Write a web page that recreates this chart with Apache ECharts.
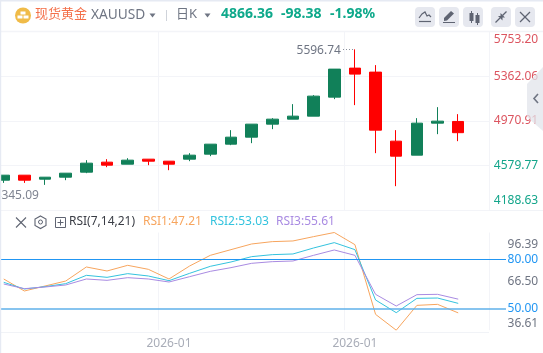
<!DOCTYPE html>
<html>
<head>
<meta charset="utf-8">
<title>现货黄金 XAUUSD</title>
<style>
  html, body { margin: 0; padding: 0; background: #fff; }
  #chart { width: 543px; height: 353px; }
</style>
<script src="https://cdn.jsdelivr.net/npm/echarts@6/dist/echarts.min.js"></script>
</head>
<body>
<div id="chart"></div>
<script>
// last one is the empty slot at the right of the last candle
const categories = [
  "2026-01-06", "2026-01-07", "2026-01-08", "2026-01-09", "2026-01-12", "2026-01-13",
  "2026-01-14", "2026-01-15", "2026-01-16", "2026-01-19", "2026-01-20", "2026-01-21",
  "2026-01-22", "2026-01-23", "2026-01-26", "2026-01-27", "2026-01-28", "2026-01-29",
  "2026-01-30", "2026-02-02", "2026-02-03", "2026-02-04", "2026-02-05", "2026-02-06"
];
const dateLabels = ["2026-01-16", "2026-01-29"];

// open, close, low, high
const candles = [
  [4450.0, 4493.9, 4426.3, 4493.9],
  [4493.9, 4450.0, 4426.3, 4493.9],
  [4458.8, 4476.3, 4408.8, 4476.3],
  [4476.3, 4511.4, 4450.0, 4511.4],
  [4520.2, 4599.1, 4511.4, 4625.4],
  [4607.9, 4581.5, 4564.0, 4634.2],
  [4590.3, 4625.4, 4590.3, 4642.9],
  [4634.2, 4616.6, 4581.5, 4634.2],
  [4616.6, 4590.3, 4537.7, 4616.6],
  [4634.2, 4669.3, 4616.6, 4686.8],
  [4678.0, 4765.7, 4660.5, 4765.7],
  [4765.7, 4827.1, 4756.9, 4888.5],
  [4827.1, 4941.1, 4774.5, 4941.1],
  [4941.1, 4985.0, 4897.3, 4993.7],
  [4985.0, 5011.3, 4985.0, 5116.5],
  [5011.3, 5186.7, 5011.3, 5195.5],
  [5177.9, 5423.5, 5160.4, 5423.5],
  [5432.2, 5379.6, 5107.8, 5596.74],
  [5397.2, 4888.5, 4686.8, 5458.6],
  [4792.0, 4660.5, 4397.4, 4888.5],
  [4669.3, 4949.9, 4669.3, 4993.7],
  [4949.9, 4967.4, 4853.4, 5090.2],
  [4964.7, 4866.36, 4792.0, 5028.8],
  "-"
];

const rsi1 = [67.94, 60.6, 63.65, 66.7, 75.29, 72.84, 76.31, 73.86, 67.94, 75.9, 82.43, 85.9,
  89.37, 90.8, 91.21, 93.86, 96.39, 88.96, 46.3, 36.61, 51.8, 52.43, 47.21, "-"];
const rsi2 = [65.9, 61.82, 63.25, 65.08, 70.18, 68.96, 71.21, 69.78, 66.92, 71.41, 75.7, 78.35,
  81.61, 82.84, 83.25, 86.92, 90.19, 85.9, 55.08, 47.33, 56.1, 56.3, 53.03, "-"];
const rsi3 = [64.88, 62.02, 63.04, 64.27, 67.94, 67.12, 68.76, 67.94, 66.1, 69.37, 72.63, 74.88,
  77.53, 78.55, 78.96, 82.43, 85.7, 82.43, 58.55, 51.41, 58.35, 58.55, 55.61, "-"];

const priceTicks = [4188.63, 4579.77, 4970.91, 5362.06, 5753.20];
const rsiTicks = [36.61, 50, 66.5, 80, 96.39];
const rsiLevels = [80, 50];
const highLabel = 5596.74;
const lowLabel = 4345.09;

const FONT = "'Noto Sans', 'Noto Sans CJK SC', sans-serif";
const GRID_LINE = "#f3f4f8";
const GRAY = "#6f7583";
const GREEN = "#0fa98b";
const PRICE_UP = "#dc5560";
const PRICE_DOWN = "#13a58a";

const isDateLabel = (i, v) => dateLabels.includes(v);

// toolbar + small icons, plain zrender shapes
const txt = (x, y, text, fill, size, weight) => ({
  type: "text", x, y, silent: true,
  style: { text, fill, font: `${weight || "normal"} ${size || 13}px ${FONT}`, verticalAlign: "middle" }
});
const seg = (x1, y1, x2, y2, stroke, w) => ({
  type: "line", silent: true,
  shape: { x1, y1, x2, y2 },
  style: { stroke, lineWidth: w || 1 }
});
const box = (x, y, width, height, fill, r) => ({
  type: "rect", silent: true,
  shape: { x, y, width, height, r: r || 0 },
  style: { fill }
});
const tri = (x, y) => ({
  type: "polygon", silent: true,
  shape: { points: [[x - 3, y - 2], [x + 3, y - 2], [x, y + 2]] },
  style: { fill: GRAY }
});
const poly = (points, fill) => ({ type: "polygon", silent: true, shape: { points }, style: { fill } });
const polyline = (points, stroke, w) => ({
  type: "polyline", silent: true, shape: { points },
  style: { stroke, lineWidth: w || 1, fill: null }
});

const ICON = "#5f6472";
const graphics = [
  // window frame
  Object.assign(box(0, 0, 543, 1.5, "#e6eaf3"), { z: 300 }),
  Object.assign(box(0, 0, 1.2, 353, "#e6eaf3"), { z: 300 }),
  seg(1, 31.5, 543, 31.5, "#f1f3f7", 1.5),
  seg(489.5, 31, 489.5, 210, "#f1f3f7"),
  seg(1, 210.5, 543, 210.5, "#f1f3f7"),
  seg(1, 332.5, 489, 332.5, "#f1f3f7"),

  // title bar
  { type: "circle", silent: true, shape: { cx: 23, cy: 15.5, r: 8 }, style: { fill: "#f0bb48" } },
  box(20.5, 11.5, 5, 3, "#fff"),
  box(17.5, 15.5, 5, 3, "#fff"),
  box(23.5, 15.5, 5, 3, "#fff"),
  txt(35, 14.5, "现货黄金", "#f4704a", 13),
  txt(91, 15.5, "XAUUSD", GRAY, 13.7),
  tri(152.5, 15.5),
  seg(166.5, 10, 166.5, 21, "#cfd3da"),
  txt(176, 14.5, "日K", GRAY, 13),
  tri(207.5, 15.5),
  txt(221, 14.5, "4866.36", GREEN, 14, "bold"),
  txt(281, 14.5, "-98.38", GREEN, 14, "bold"),
  txt(330, 14.5, "-1.98%", GREEN, 14, "bold"),

  // toolbar buttons
  box(415, 7, 20, 20, "#e6e8ef", 4),
  box(439, 7, 20, 20, "#e6e8ef", 4),
  box(463, 7, 20, 20, "#e6e8ef", 4),
  box(491, 7, 20, 20, "#e6e8ef", 4),
  box(515, 7, 20, 20, "#e6e8ef", 4),
  polyline([[419, 18], [422, 14], [425, 12], [427, 16], [429, 15], [431, 17]], ICON, 1.2),
  seg(419, 21.5, 431, 21.5, ICON, 1.2),
  poly([[444, 18], [451, 11], [454, 13.5], [447, 20.5], [444, 21]], ICON),
  seg(443, 22.5, 455, 22.5, ICON, 1),
  box(469.5, 13, 4, 8, ICON),
  seg(471.5, 11, 471.5, 23, ICON),
  box(475.5, 15, 4, 8, ICON),
  seg(477.5, 13, 477.5, 25, ICON),
  seg(495.5, 22.5, 500, 18, ICON, 1.2),
  poly([[498, 16], [502.5, 16], [502.5, 20.5]], ICON),
  seg(506.5, 11.5, 502.5, 15.5, ICON, 1.2),
  poly([[500.5, 13], [500.5, 17.5], [505, 17.5]], ICON),
  seg(520, 12, 530, 22, ICON, 1.2),
  seg(530, 12, 520, 22, ICON, 1.2),

  // side handle, see-through so the tick labels stay visible
  {
    type: "polygon", silent: true, z: 200,
    shape: { points: [[527, 84], [543, 67], [543, 131], [527, 117]] },
    style: { fill: "rgba(226,228,235,0.75)" }
  },
  Object.assign(polyline([[538, 94], [534, 98.5], [538, 103]], "#6f7583", 1.6), { z: 201 }),

  // indicator header
  seg(16, 217.5, 26, 227.5, ICON, 1.1),
  seg(26, 217.5, 16, 227.5, ICON, 1.1),
  {
    type: "polygon", silent: true,
    shape: { points: [[40.5, 216], [46, 219], [46, 225.5], [40.5, 228.5], [35, 225.5], [35, 219]] },
    style: { stroke: ICON, fill: null, lineWidth: 1.1 }
  },
  { type: "circle", silent: true, shape: { cx: 40.5, cy: 222, r: 2 }, style: { stroke: ICON, fill: null } },
  { type: "rect", silent: true, shape: { x: 55.5, y: 217.5, width: 10, height: 10 }, style: { stroke: ICON, fill: null } },
  seg(60.5, 219.5, 60.5, 225.5, ICON),
  seg(57.5, 222.5, 63.5, 222.5, ICON),
  txt(69, 222, "RSI(7,14,21)", "#3a3d45", 12),
  txt(143, 222, "RSI1:47.21", "#f7a55e", 12),
  txt(210, 222, "RSI2:53.03", "#34c3de", 12),
  txt(276, 222, "RSI3:55.61", "#a98be2", 12)
];

const chart = echarts.init(document.getElementById("chart"), null, { renderer: "canvas" });

const rsiSeries = (name, data, color) => ({
  name, type: "line", xAxisIndex: 1, yAxisIndex: 1,
  data, showSymbol: false, symbol: "none", silent: true,
  lineStyle: { color, width: 1 }
});

const priceColor = v => (v >= 4970 ? PRICE_UP : PRICE_DOWN);
const rsiColor = v => (rsiLevels.includes(+v) ? "#2196f3" : "#6f7583");

const option = {
  animation: false,
  backgroundColor: "#fff",
  textStyle: { fontFamily: FONT },
  graphic: graphics,
  // outerBounds off, the first candle has to hang over the left edge
  grid: [
    { left: -6.6, width: 495.8, top: 31.5, height: 178.5, outerBoundsMode: "none" },
    { left: -6.6, width: 495.8, top: 232.5, height: 97.7, outerBoundsMode: "none" }
  ],
  xAxis: [
    {
      type: "category", data: categories, gridIndex: 0,
      axisLine: { show: false }, axisTick: { show: false, alignWithLabel: true }, axisLabel: { show: false },
      splitLine: { show: true, interval: isDateLabel, lineStyle: { color: GRID_LINE } }
    },
    {
      type: "category", data: categories, gridIndex: 1,
      axisLine: { show: false }, axisTick: { show: false, alignWithLabel: true },
      axisLabel: {
        interval: isDateLabel, margin: 7, color: "#a9adb8", fontSize: 12,
        formatter: v => v.slice(0, 7)
      },
      splitLine: { show: true, interval: isDateLabel, lineStyle: { color: GRID_LINE } }
    }
  ],
  yAxis: [
    {
      type: "value", gridIndex: 0, position: "right",
      min: priceTicks[0], max: priceTicks[priceTicks.length - 1],
      axisLine: { show: false }, axisTick: { show: false, customValues: priceTicks },
      splitLine: { show: true, lineStyle: { color: GRID_LINE } },
      axisLabel: {
        customValues: priceTicks,
        align: "right", margin: 49, fontSize: 12,
        showMinLabel: true, showMaxLabel: true,
        color: priceColor,
        // first and last label are pushed inside the panel
        formatter: v => {
          const s = (+v).toFixed(2);
          if (+v === priceTicks[0]) return `{low|${s}}`;
          if (+v === priceTicks[priceTicks.length - 1]) return `{high|${s}}`;
          return s;
        },
        rich: {
          low: { color: PRICE_DOWN, fontSize: 12, padding: [0, 0, 18, 0] },
          high: { color: PRICE_UP, fontSize: 12, padding: [16, 0, 0, 0] }
        }
      }
    },
    {
      type: "value", gridIndex: 1, position: "right",
      min: rsiTicks[0], max: rsiTicks[rsiTicks.length - 1],
      axisLine: { show: false }, axisTick: { show: false, customValues: rsiTicks },
      splitLine: { show: false },
      axisLabel: {
        customValues: rsiTicks,
        align: "right", margin: 49, fontSize: 12,
        showMinLabel: true, showMaxLabel: true,
        color: rsiColor,
        // same here, top and bottom labels sit further inside than the real tick
        formatter: v => {
          const s = (+v).toFixed(2);
          if (+v === rsiTicks[0]) return `{low|${s}}`;
          if (+v === rsiTicks[rsiTicks.length - 1]) return `{high|${s}}`;
          return s;
        },
        rich: {
          low: { color: "#6f7583", fontSize: 12, padding: [0, 0, 14, 0] },
          high: { color: "#6f7583", fontSize: 12, padding: [24, 0, 0, 0] }
        }
      }
    }
  ],
  series: [
    {
      name: "XAUUSD", type: "candlestick", xAxisIndex: 0, yAxisIndex: 0,
      data: candles, barWidth: 12, silent: true,
      itemStyle: {
        color: "#118059", borderColor: "#118059",
        color0: "#ff0000", borderColor0: "#ff0000", borderWidth: 1
      },
      markPoint: {
        silent: true, symbol: "circle", symbolSize: 0,
        data: [
          {
            coord: [categories[17], highLabel], value: highLabel,
            label: {
              show: true, position: "inside", align: "right", offset: [-14, 1],
              color: "#6f7583", fontSize: 12, formatter: String(highLabel)
            }
          },
          {
            coord: [categories[0], lowLabel], value: lowLabel,
            label: {
              show: true, position: "inside", align: "center", offset: [13, 3],
              color: "#7f8491", fontSize: 12, formatter: String(lowLabel)
            }
          }
        ]
      },
      markLine: {
        silent: true, symbol: "none", label: { show: false },
        lineStyle: { color: "#8a8f9b", type: [1, 2], width: 1 },
        data: [[
          { x: 343, yAxis: highLabel },
          { xAxis: categories[17], yAxis: highLabel }
        ]]
      }
    },
    Object.assign(rsiSeries("RSI1", rsi1, "#f7a55e"), {
      markLine: {
        silent: true, symbol: "none", label: { show: false },
        data: [
          [
            { x: 1, yAxis: rsiLevels[0], lineStyle: { color: "#2196f3", width: 1, type: "solid" } },
            { x: 506, yAxis: rsiLevels[0] }
          ],
          [
            { x: 1, yAxis: rsiLevels[1], lineStyle: { color: "#5fb0ea", width: 1.5, type: "solid" } },
            { x: 506, yAxis: rsiLevels[1] }
          ]
        ]
      }
    }),
    rsiSeries("RSI2", rsi2, "#34c3de"),
    rsiSeries("RSI3", rsi3, "#a98be2")
  ]
};

chart.setOption(option);
</script>
</body>
</html>
